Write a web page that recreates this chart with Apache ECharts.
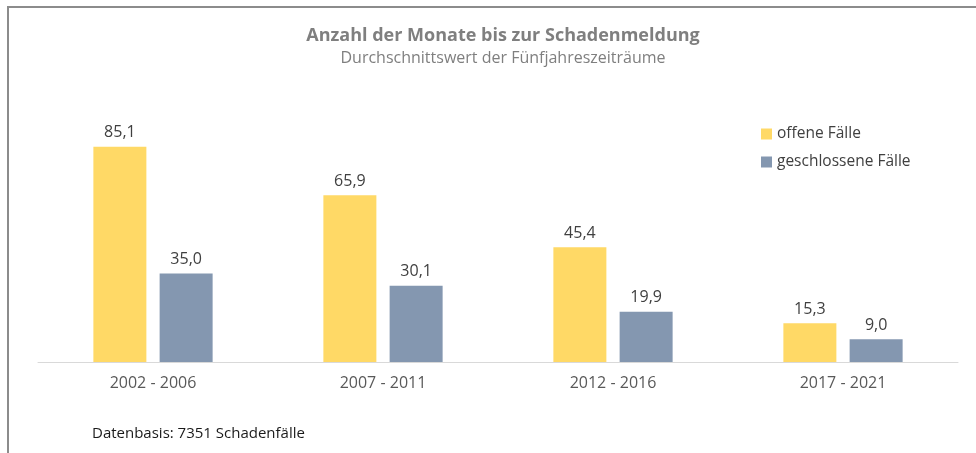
<!DOCTYPE html>
<html>
<head>
<meta charset="utf-8">
<script src="https://cdn.jsdelivr.net/npm/echarts@6/dist/echarts.min.js"></script>
<style>
  html, body { margin: 0; padding: 0; background: #fff; }
  #main { width: 976px; height: 453px; }
</style>
</head>
<body>
<div id="main"></div>
<script>
// Daten
var zeitraeume = ['2002 - 2006', '2007 - 2011', '2012 - 2016', '2017 - 2021'];
var offeneFaelle = [85.1, 65.9, 45.4, 15.3];
var geschlosseneFaelle = [35.0, 30.1, 19.9, 9.0];

var myChart = echarts.init(document.getElementById('main'));
var schrift = 'Open Sans';

function beschriftung(p) {
    return p.value.toFixed(1).replace('.', ',');
}

var option = {
    animation: false,
    title: {
        text: 'Anzahl der Monate bis zur Schadenmeldung',
        subtext: 'Durchschnittswert der Fünfjahreszeiträume',
        left: 498,
        textAlign: 'center',
        top: 22,
        itemGap: 5,
        textStyle: { fontFamily: schrift, fontSize: 18, fontWeight: 'bold', color: '#7f7f7f' },
        subtextStyle: { fontFamily: schrift, fontSize: 16, color: '#7f7f7f' }
    },
    legend: {
        orient: 'vertical',
        left: 756,
        top: 121,
        itemWidth: 11,
        itemHeight: 11,
        itemGap: 12,
        icon: 'rect',
        textStyle: { fontFamily: schrift, fontSize: 15.5, color: '#404040' },
        data: ['offene Fälle', 'geschlossene Fälle']
    },
    grid: { left: 38, right: 18, top: 109, bottom: 91 },
    xAxis: {
        type: 'category',
        data: zeitraeume,
        axisTick: { show: false },
        axisLine: { lineStyle: { color: '#d9d9d9', width: 1 } },
        axisLabel: { fontFamily: schrift, fontSize: 16, color: '#595959', margin: 13 }
    },
    yAxis: {
        type: 'value',
        min: 0,
        max: 100,
        show: false,
        splitLine: { show: false }
    },
    series: [{
        name: 'offene Fälle',
        type: 'bar',
        data: offeneFaelle,
        barWidth: 53,
        barGap: '25%',
        itemStyle: { color: '#ffd966' },
        label: { show: true, position: 'top', distance: 6, formatter: beschriftung,
                 fontFamily: schrift, fontSize: 16, color: '#404040' }
    }, {
        name: 'geschlossene Fälle',
        type: 'bar',
        data: geschlosseneFaelle,
        barWidth: 53,
        itemStyle: { color: '#8497b0' },
        label: { show: true, position: 'top', distance: 6, formatter: beschriftung,
                 fontFamily: schrift, fontSize: 16, color: '#404040' }
    }],
    graphic: [{
        type: 'polyline',
        shape: { points: [[8, 453], [8, 7], [976, 7]] },
        style: { stroke: '#8c8c8c', lineWidth: 2, fill: null }
    }, {
        type: 'text',
        left: 92,
        top: 426,
        style: { text: 'Datenbasis: 7351 Schadenfälle', fontFamily: schrift, fontSize: 15, fill: '#1a1a1a' }
    }]
};
myChart.setOption(option);
</script>
</body>
</html>
